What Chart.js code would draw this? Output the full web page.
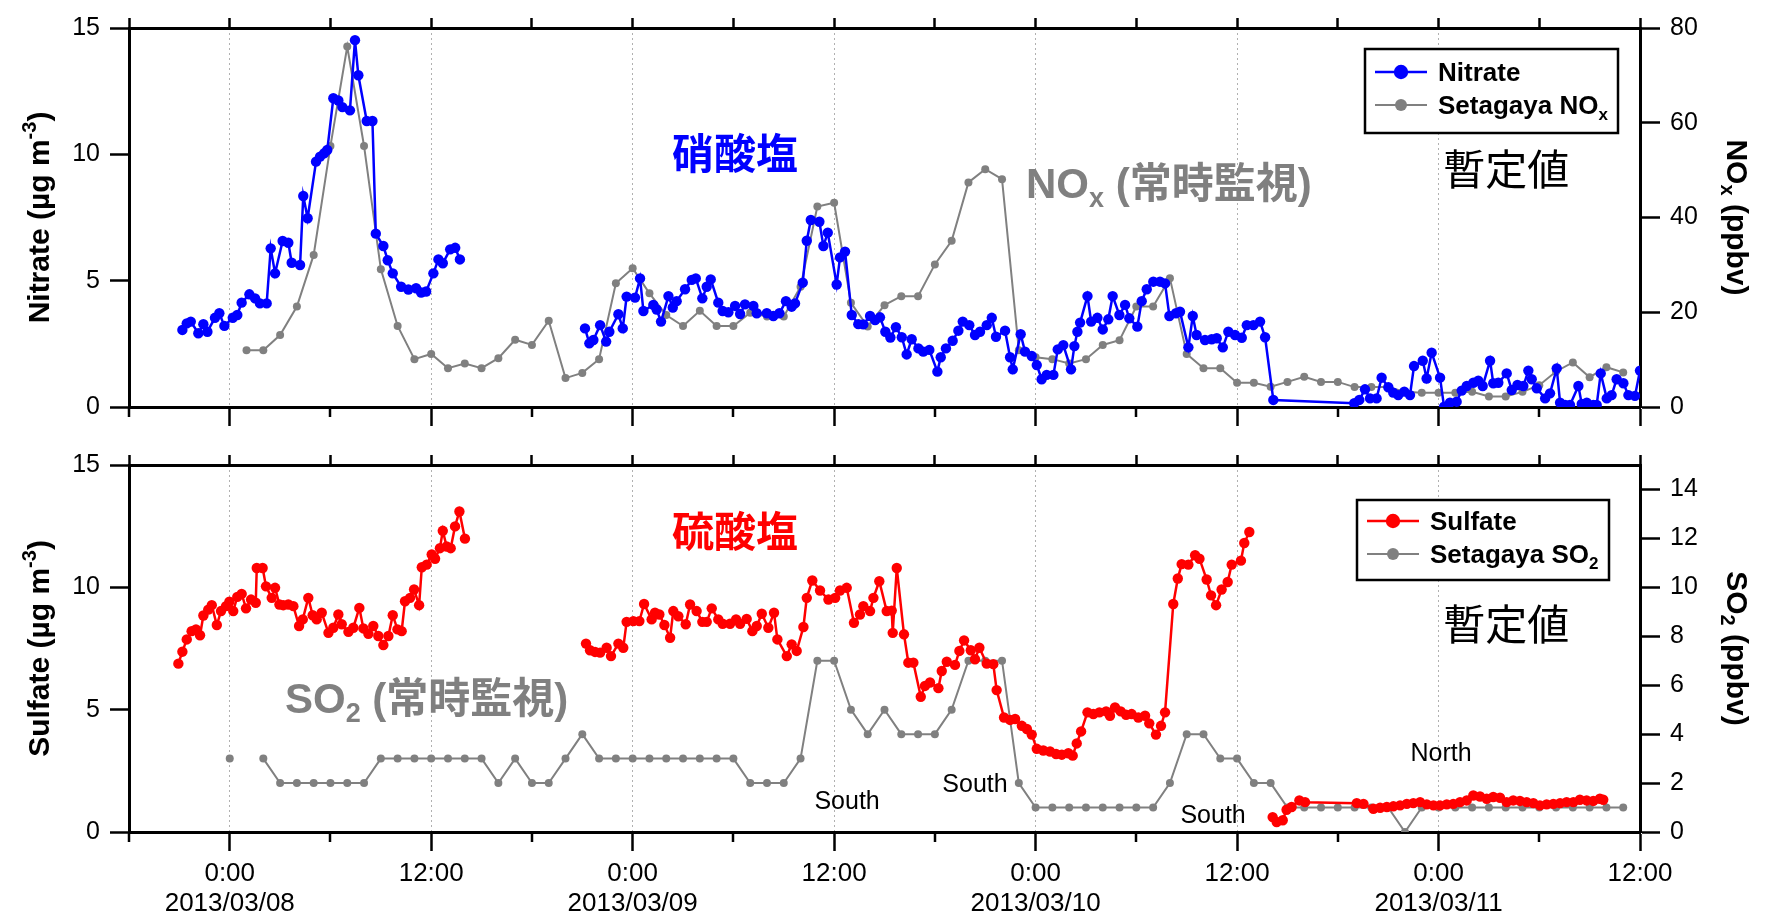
<!DOCTYPE html>
<html>
<head>
<meta charset="utf-8">
<script src="https://cdn.jsdelivr.net/npm/chart.js@4.4.0/dist/chart.umd.min.js"></script>
<style>
  html, body { margin: 0; padding: 0; background: #fff; }
  #wrap { position: relative; width: 1773px; height: 917px; }
  #topChart { position: absolute; left: 0; top: 0; }
  #bottomChart { position: absolute; left: 0; top: 440px; }
</style>
</head>
<body>
<div id="wrap">
  <canvas id="topChart" width="1773" height="440"></canvas>
  <canvas id="bottomChart" width="1773" height="477"></canvas>
</div>
<script>
// time axis is in hours after 2013/03/08 0:00
const dayLabels = ['2013/03/08', '2013/03/09', '2013/03/10', '2013/03/11'];
const hourLabels = ['0:00', '12:00'];

// nitrate (ug m-3), null marks the data gap
const nitrateHours = [
  -2.82, -2.56, -2.32, -1.87, -1.57, -1.33, -0.88, -0.62, -0.32, 0.18, 0.45, 0.71, 1.17, 1.51, 1.80, 2.20, 2.44, 2.70, 3.15, 3.49,
  3.69, 4.19, 4.38, 4.64, 5.14, 5.38, 5.62, 5.81, 6.17, 6.47, 6.71, 7.16, 7.46, 7.66, 8.16, 8.50, 8.70, 9.15, 9.41, 9.71,
  10.21, 10.64, 11.10, 11.40, 11.70, 12.13, 12.43, 12.69, 13.13, 13.43, 13.71,
  17.5,
  21.16, 21.42, 21.66, 22.06, 22.42, 22.61, 23.15, 23.41, 23.64, 24.14, 24.44, 24.64, 25.23, 25.43, 25.69, 26.13, 26.39, 26.62, 27.12, 27.52,
  27.76, 28.15, 28.41, 28.65, 29.10, 29.36, 29.70, 30.10, 30.40, 30.69, 31.19, 31.39, 31.99, 32.38, 32.74, 33.13, 33.47, 33.67, 34.13, 34.37,
  34.61, 35.12, 35.36, 35.62, 36.15, 36.35, 36.65, 37.05, 37.44, 37.74, 38.14, 38.44, 38.73, 39.05, 39.35, 39.68,
  40.03, 40.32, 40.62, 41.02, 41.31, 41.67, 42.15, 42.35, 42.66, 43.06, 43.40, 43.66, 44.05, 44.39, 44.69, 45.09, 45.39, 45.64, 46.18, 46.48,
  46.64, 47.11, 47.37, 47.77, 48.07, 48.36, 48.66, 49.06, 49.32, 49.65, 50.11, 50.31, 50.49, 50.65, 51.09, 51.31, 51.68, 52.00, 52.33, 52.59,
  52.99, 53.33, 53.58, 54.06, 54.32, 54.62, 55.01, 55.41, 55.71, 55.97, 56.36, 56.60, 57.10, 57.36, 57.59, 58.09, 58.49, 58.79, 59.15, 59.48,
  59.88, 60.28, 60.58, 60.97, 61.37, 61.67, 62.16,
  66.98, 67.28, 67.62, 67.92, 68.31, 68.61, 69.01, 69.30, 69.60, 69.96, 70.30, 70.54, 71.06, 71.29, 71.59, 72.09, 72.33, 72.68, 73.08, 73.38,
  73.68, 74.07, 74.37, 74.63, 75.07, 75.26, 75.56, 76.06, 76.36, 76.70, 77.05, 77.35, 77.55, 77.85, 78.35, 78.64, 79.04, 79.24, 79.54, 79.83,
  80.33, 80.53, 80.83, 81.22, 81.42, 81.66, 82.02, 82.31, 82.61, 83.01, 83.31, 83.70, 84.00
];
const nitrateValues = [
  3.05, 3.31, 3.38, 2.92, 3.28, 2.98, 3.53, 3.71, 3.21, 3.53, 3.64, 4.13, 4.46, 4.30, 4.10, 4.10, 6.28, 5.29, 6.57, 6.50,
  5.71, 5.62, 8.35, 7.47, 9.71, 9.91, 10.04, 10.17, 12.22, 12.13, 11.87, 11.74, 14.52, 13.13, 11.32, 11.32, 6.86, 6.37, 5.81, 5.29,
  4.76, 4.65, 4.70, 4.53, 4.57, 5.29, 5.84, 5.69, 6.24, 6.30, 5.84,
  null,
  3.11, 2.52, 2.65, 3.24, 2.59, 2.98, 3.67, 3.11, 4.37, 4.33, 5.09, 3.80, 4.04, 3.86, 3.38, 4.39, 3.94, 4.19, 4.66, 5.03,
  5.09, 4.30, 4.76, 5.05, 4.13, 3.80, 3.75, 4.00, 3.68, 4.06, 4.00, 3.71, 3.71, 3.60, 3.71, 4.19, 3.97, 4.10, 4.92, 6.58,
  7.40, 7.33, 6.37, 6.90, 4.85, 5.92, 6.15, 3.64, 3.28, 3.27, 3.60, 3.44, 3.55, 2.98, 2.75, 3.16,
  2.76, 2.08, 2.68, 2.32, 2.19, 2.26, 1.40, 1.97, 2.32, 2.62, 3.02, 3.38, 3.24, 2.85, 2.98, 3.24, 3.53, 2.78, 3.02, 1.97,
  1.49, 2.88, 2.19, 2.02, 1.66, 1.10, 1.27, 1.27, 2.28, 2.45, 1.49, 2.41, 2.98, 3.34, 4.39, 3.38, 3.53, 3.07, 3.47, 4.39,
  3.64, 4.04, 3.51, 3.18, 4.19, 4.66, 4.96, 4.96, 4.89, 3.60, 3.71, 3.77, 2.36, 3.60, 2.85, 2.65, 2.68, 2.72, 2.36, 2.98,
  2.85, 2.74, 3.24, 3.24, 3.38, 2.76, 0.28,
  0.15, 0.28, 0.70, 0.34, 0.34, 1.16, 0.78, 0.57, 0.47, 0.61, 0.47, 1.62, 1.83, 1.13, 2.15, 1.16, 0.01, 0.17, 0.21, 0.65,
  0.83, 0.96, 1.04, 0.83, 1.83, 0.94, 0.96, 1.33, 0.67, 0.87, 0.83, 1.44, 1.10, 0.74, 0.34, 0.54, 1.53, 0.17, 0.08, 0.08,
  0.83, 0.12, 0.17, 0.08, 0.08, 1.33, 0.34, 0.47, 1.10, 0.94, 0.47, 0.44, 1.44
];

// Setagaya NOx (ppbv), hourly from 1:00 on 03/08
const noxStartHour = 1;
const noxValues = [
  12.0, 12.0, 15.2, 21.2, 32.1, 55.1, 76.1, 55.1, 29.1, 17.1,
  10.1, 11.2, 8.2, 9.2, 8.2, 10.3, 14.2, 13.1, 18.2, 6.1,
  7.2, 10.1, 26.1, 29.3, 24.0, 19.4, 17.1, 20.3, 17.1, 17.1,
  19.9, 19.1, 19.1, 25.4, 42.3, 43.1, 22.0, 17.0, 21.5, 23.4,
  23.4, 30.1, 35.1, 47.4, 50.2, 48.1, 12.0, 10.5, 10.1, 9.2,
  10.1, 13.1, 14.1, 21.2, 21.2, 27.2, 11.2, 8.2, 8.2, 5.1,
  5.1, 4.3, 5.3, 6.4, 5.3, 5.3, 4.2, 4.2, 4.2, 3.2,
  3.0, 3.0, 3.0, 3.2, 2.2, 2.2, 3.2, 4.6, 7.5, 9.4,
  6.3, 8.4, 7.3
];

// sulfate (ug m-3)
const sulfateHours = [
  -3.06, -2.82, -2.56, -2.27, -2.01, -1.77, -1.57, -1.28, -1.07, -0.77, -0.52, -0.22, -0.02, 0.21, 0.45, 0.71, 0.97, 1.27, 1.55, 1.61,
  1.96, 2.16, 2.50, 2.70, 2.96, 3.19, 3.49, 3.79, 4.13, 4.35, 4.68, 4.94, 5.18, 5.48, 5.88, 6.17, 6.47, 6.67, 7.07, 7.36,
  7.72, 7.96, 8.26, 8.55, 8.85, 9.15, 9.45, 9.71, 9.99, 10.24, 10.44, 10.74, 10.98, 11.28, 11.44, 11.73, 12.03, 12.23, 12.52, 12.69,
  12.92, 13.16, 13.42, 13.68, 14.01,
  17.5,
  21.22, 21.46, 21.76, 22.06, 22.45, 22.71, 23.15, 23.44, 23.64, 24.04, 24.40, 24.68, 25.13, 25.33, 25.59, 25.89, 26.23, 26.42, 26.72, 27.16,
  27.42, 27.81, 28.15, 28.41, 28.71, 29.10, 29.36, 29.80, 30.16, 30.40, 30.79, 31.13, 31.39, 31.69, 32.08, 32.42, 32.62, 33.18, 33.47, 33.77,
  34.17, 34.37, 34.70, 35.16, 35.66, 36.06, 36.35, 36.75, 37.18, 37.54, 37.74, 38.14, 38.34, 38.69, 39.13, 39.43, 39.49, 39.73, 40.16, 40.42,
  40.72, 41.16, 41.41, 41.71, 42.21, 42.41, 42.71, 43.20, 43.46, 43.74, 44.14, 44.39, 44.65, 45.09, 45.48, 45.68, 46.12, 46.48, 46.78, 47.18,
  47.48, 47.77, 48.07, 48.46, 48.86, 49.22, 49.56, 49.95, 50.21, 50.45, 50.71, 51.09, 51.44, 51.80, 52.20, 52.43, 52.73, 53.07, 53.39, 53.72,
  54.12, 54.52, 54.77, 55.17, 55.47, 55.71, 56.20, 56.47, 56.70, 57.10, 57.50, 57.76, 58.19, 58.45, 58.75, 59.08, 59.44, 59.68, 60.23, 60.43,
  60.73,
  61.4,
  62.12, 62.36, 62.72, 62.95, 63.25, 63.71, 64.05, 67.13, 67.53, 68.12, 68.52, 68.92, 69.31, 69.71, 70.11, 70.50, 70.90, 71.30, 71.70, 72.09,
  72.49, 72.88, 73.28, 73.68, 74.07, 74.47, 74.87, 75.26, 75.66, 76.06, 76.45, 76.85, 77.25, 77.65, 78.04, 78.44, 78.84, 79.24, 79.63, 80.03,
  80.42, 80.82, 81.22, 81.61, 81.81
];
const sulfateValues = [
  6.88, 7.37, 7.87, 8.21, 8.28, 8.04, 8.85, 9.09, 9.27, 8.46, 9.03, 9.23, 9.41, 9.03, 9.61, 9.73, 9.14, 9.50, 9.37, 10.79,
  10.79, 10.04, 9.57, 9.98, 9.30, 9.27, 9.30, 9.23, 8.42, 8.69, 9.57, 8.86, 8.69, 8.96, 8.14, 8.35, 8.89, 8.49, 8.18, 8.35,
  9.16, 8.32, 8.10, 8.42, 8.01, 7.64, 8.01, 8.86, 8.28, 8.21, 9.43, 9.57, 9.91, 9.27, 10.82, 10.93, 11.34, 11.17, 11.60, 12.31,
  11.67, 11.60, 12.49, 13.10, 11.99,
  null,
  7.70, 7.43, 7.36, 7.33, 7.53, 7.19, 7.70, 7.53, 8.59, 8.62, 8.62, 9.32, 8.69, 8.96, 8.89, 8.46, 7.94, 9.03, 8.82, 8.49,
  9.30, 9.03, 8.59, 8.59, 9.14, 8.69, 8.51, 8.51, 8.69, 8.51, 8.71, 8.21, 8.42, 8.92, 8.35, 8.96, 7.87, 7.19, 7.67, 7.40,
  8.38, 9.57, 10.28, 9.87, 9.50, 9.57, 9.87, 9.98, 8.55, 8.89, 9.23, 9.03, 9.57, 10.25, 9.03, 9.05, 8.14, 10.79, 8.08, 6.92,
  6.92, 5.53, 5.97, 6.11, 5.88, 6.58, 6.96, 6.83, 7.40, 7.83, 7.43, 7.06, 7.53, 6.88, 6.86, 5.80, 4.68, 4.58, 4.62, 4.34,
  4.21, 3.98, 3.40, 3.33, 3.29, 3.19, 3.16, 3.22, 3.12, 3.62, 4.11, 4.89, 4.82, 4.89, 4.93, 4.75, 5.09, 4.93, 4.79, 4.82,
  4.68, 4.75, 4.44, 3.98, 4.34, 4.89, 9.32, 10.36, 10.95, 10.93, 11.31, 11.17, 10.32, 9.67, 9.27, 9.91, 10.22, 10.93, 11.09, 11.81,
  12.26,
  null,
  0.61, 0.41, 0.48, 0.91, 1.02, 1.29, 1.22, 1.18, 1.15, 0.95, 0.99, 1.02, 1.05, 1.09, 1.15, 1.18, 1.22, 1.13, 1.09, 1.09,
  1.13, 1.15, 1.22, 1.29, 1.49, 1.45, 1.36, 1.43, 1.40, 1.22, 1.29, 1.27, 1.22, 1.18, 1.09, 1.13, 1.15, 1.18, 1.22, 1.22,
  1.32, 1.29, 1.27, 1.36, 1.32
];

// Setagaya SO2 (ppbv), hourly from 0:00 on 03/08, 1:00 missing
const so2StartHour = 0;
const so2Values = [
  3, null, 3, 2, 2, 2, 2, 2, 2, 3, 3, 3, 3, 3, 3, 3, 2, 3, 2, 2,
  3, 4, 3, 3, 3, 3, 3, 3, 3, 3, 3, 2, 2, 2, 3, 7, 7, 5, 4, 5,
  4, 4, 4, 5, 7, 7, 7, 2, 1, 1, 1, 1, 1, 1, 1, 1, 2, 4, 4, 3,
  3, 2, 2, 1, 1, 1, 1, 1, 1, 1, 0, 1, 1, 1, 1, 1, 1, 1, 1, 1,
  1, 1, 1, 1
];

const FONT = "'Liberation Sans', Arial, 'Noto Sans CJK JP', sans-serif";
const BLUE = '#0000ff';
const RED = '#ff0000';
const GRAY = '#808080';

function pairs(xs, ys) {
  return xs.map((x, i) => ({ x: x, y: ys[i] }));
}
function hourly(start, ys) {
  return ys.map((y, i) => ({ x: start + i, y: y }));
}
function isMajor(v) {
  return v % 12 === 0;
}
function timeLabel(value) {
  const h = ((value % 24) + 24) % 24;
  if (h === 0) return [hourLabels[0], dayLabels[value / 24]];
  if (h === 12) return hourLabels[1];
  return '';
}

// draws text runs with sub/superscripts, y is the baseline
function drawRich(ctx, parts, x, y, size, weight, color, align) {
  const fontFor = m => weight + ' ' + (m ? Math.round(size * 0.65) : size) + 'px ' + FONT;
  let w = 0;
  parts.forEach(p => { ctx.font = fontFor(p[1]); w += ctx.measureText(p[0]).width; });
  let cx = align === 'center' ? x - w / 2 : (align === 'right' ? x - w : x);
  ctx.fillStyle = color;
  ctx.textAlign = 'left';
  ctx.textBaseline = 'alphabetic';
  parts.forEach(p => {
    ctx.font = fontFor(p[1]);
    const dy = p[1] === 'sub' ? size * 0.22 : (p[1] === 'sup' ? -size * 0.42 : 0);
    ctx.fillText(p[0], cx, y + dy);
    cx += ctx.measureText(p[0]).width;
  });
}

function drawTurned(ctx, parts, cx, cy, angle, size) {
  ctx.save();
  ctx.translate(cx, cy);
  ctx.rotate(angle);
  drawRich(ctx, parts, 0, size * 0.36, size, 'bold', '#000', 'center');
  ctx.restore();
}

function overlay(cfg) {
  return {
    id: 'overlay',
    afterDraw(chart) {
      const ctx = chart.ctx;
      const area = chart.chartArea;
      const sx = chart.scales.x;
      const sy = chart.scales.yL;
      ctx.save();

      // short ticks every 6 h on the lower time axis
      ctx.strokeStyle = '#000';
      ctx.lineWidth = 2.5;
      sx.ticks.forEach(t => {
        if (isMajor(t.value)) return;
        const px = Math.round(sx.getPixelForValue(t.value));
        ctx.beginPath();
        ctx.moveTo(px, area.bottom);
        ctx.lineTo(px, area.bottom + 10);
        ctx.stroke();
      });

      // axis titles
      const midY = (area.top + area.bottom) / 2;
      drawTurned(ctx, cfg.leftTitle, 38, midY, -Math.PI / 2, 30);
      drawTurned(ctx, cfg.rightTitle, 1738, midY, Math.PI / 2, 30);

      // notes placed in data coordinates
      cfg.notes.forEach(n => {
        drawRich(ctx, n.parts, sx.getPixelForValue(n.at[0]), sy.getPixelForValue(n.at[1]),
          n.size, n.weight, n.color, n.align);
      });

      // legend box
      const lg = cfg.legend;
      const lx = area.right - lg.right - lg.w;
      const ly = area.top + lg.top;
      ctx.fillStyle = '#fff';
      ctx.fillRect(lx, ly, lg.w, lg.h);
      ctx.strokeStyle = '#000';
      ctx.lineWidth = 2.5;
      ctx.strokeRect(lx, ly, lg.w, lg.h);
      chart.data.datasets.forEach((ds, i) => {
        const ry = ly + lg.rows[i];
        ctx.strokeStyle = ds.borderColor;
        ctx.lineWidth = ds.borderWidth;
        ctx.beginPath();
        ctx.moveTo(lx + 10, ry);
        ctx.lineTo(lx + 62, ry);
        ctx.stroke();
        ctx.fillStyle = ds.borderColor;
        ctx.beginPath();
        ctx.arc(lx + 36, ry, ds.pointRadius + 2, 0, Math.PI * 2);
        ctx.fill();
        drawRich(ctx, cfg.legendText[i], lx + 73, ry + 9, 26, 'bold', '#000', 'left');
      });
      ctx.restore();
    }
  };
}

function yScale(pos, max, step, width, tickLen) {
  return {
    type: 'linear',
    position: pos,
    min: 0,
    max: max,
    afterFit: s => { s.width = width; },
    ticks: { stepSize: step, includeBounds: false, padding: 10, color: '#000', font: { family: FONT, size: 25 } },
    grid: { drawOnChartArea: false, tickLength: tickLen, tickWidth: 2.5, tickColor: '#000' },
    border: { display: true, color: '#000', width: 3 }
  };
}

function makeChart(id, cfg) {
  return new Chart(document.getElementById(id), {
    type: 'line',
    data: { datasets: cfg.datasets },
    options: {
      responsive: false,
      animation: false,
      devicePixelRatio: 1,
      layout: { padding: 0 },
      plugins: { legend: { display: false }, tooltip: { enabled: false } },
      scales: {
        x: {
          type: 'linear',
          position: 'bottom',
          min: -6,
          max: 84,
          afterFit: s => { s.height = cfg.bottomAxisHeight; },
          ticks: {
            stepSize: 6, autoSkip: false, maxRotation: 0, minRotation: 0,
            display: cfg.showTimeLabels, padding: 8, color: '#000',
            font: { family: FONT, size: 26, lineHeight: 1.15 },
            callback: timeLabel
          },
          grid: {
            drawOnChartArea: true,
            tickLength: 19,
            tickWidth: 2.5,
            lineWidth: 1,
            color: c => (c.tick && isMajor(c.tick.value) && c.tick.value > -6 && c.tick.value < 84) ? '#b0b0b0' : 'rgba(0,0,0,0)',
            tickColor: c => (c.tick && isMajor(c.tick.value)) ? '#000' : 'rgba(0,0,0,0)'
          },
          border: { display: true, color: '#000', width: 3, dash: [2, 3] }
        },
        xTop: {
          type: 'linear',
          position: 'top',
          min: -6,
          max: 84,
          afterFit: s => { s.height = cfg.topAxisHeight; },
          ticks: { stepSize: 6, autoSkip: false, display: false },
          grid: { drawOnChartArea: false, tickLength: 10, tickWidth: 2.5, tickColor: '#000' },
          border: { display: true, color: '#000', width: 3 }
        },
        yL: yScale('left', 15, 5, 129, 19),
        yR: yScale('right', cfg.rightMax, cfg.rightStep, 133, 20)
      }
    },
    plugins: [overlay(cfg)]
  });
}

function series(label, data, axis, color, lw, r) {
  return {
    label: label,
    data: data,
    xAxisID: 'x',
    yAxisID: axis,
    borderColor: color,
    backgroundColor: color,
    pointBackgroundColor: color,
    pointBorderWidth: 0,
    borderWidth: lw,
    pointRadius: r,
    tension: 0,
    spanGaps: false
  };
}

makeChart('topChart', {
  showTimeLabels: false,
  bottomAxisHeight: 33,
  topAxisHeight: 28,
  rightMax: 80,
  rightStep: 20,
  datasets: [
    series('Nitrate', pairs(nitrateHours, nitrateValues), 'yL', BLUE, 2.5, 5.2),
    series('Setagaya NOx', hourly(noxStartHour, noxValues), 'yR', GRAY, 2, 4)
  ],
  leftTitle: [['Nitrate (\u00b5g m', ''], ['-3', 'sup'], [')', '']],
  rightTitle: [['NO', ''], ['x', 'sub'], [' (ppbv)', '']],
  legend: { right: 22, top: 21, w: 253, h: 84, rows: [23, 56] },
  legendText: [[['Nitrate', '']], [['Setagaya NO', ''], ['x', 'sub']]],
  notes: [
    { parts: [['硝酸塩', '']], at: [30.1, 9.42], size: 42, weight: 'bold', color: BLUE, align: 'center' },
    { parts: [['NO', ''], ['x', 'sub'], [' (常時監視)', '']], at: [47.43, 8.27], size: 42, weight: 'bold', color: GRAY, align: 'left' },
    { parts: [['暫定値', '']], at: [76.03, 8.79], size: 42, weight: 'normal', color: '#000', align: 'center' }
  ]
});

makeChart('bottomChart', {
  showTimeLabels: true,
  bottomAxisHeight: 85,
  topAxisHeight: 23,
  rightMax: 15,
  rightStep: 2,
  datasets: [
    series('Sulfate', pairs(sulfateHours, sulfateValues), 'yL', RED, 2.5, 5.2),
    series('Setagaya SO2', hourly(so2StartHour, so2Values), 'yR', GRAY, 2, 4)
  ],
  leftTitle: [['Sulfate (\u00b5g m', ''], ['-3', 'sup'], [')', '']],
  rightTitle: [['SO', ''], ['2', 'sub'], [' (ppbv)', '']],
  legend: { right: 31, top: 35, w: 252, h: 80, rows: [21, 54] },
  legendText: [[['Sulfate', '']], [['Setagaya SO', ''], ['2', 'sub']]],
  notes: [
    { parts: [['硫酸塩', '']], at: [30.1, 11.63], size: 42, weight: 'bold', color: RED, align: 'center' },
    { parts: [['SO', ''], ['2', 'sub'], [' (常時監視)', '']], at: [3.29, 4.88], size: 42, weight: 'bold', color: GRAY, align: 'left' },
    { parts: [['暫定値', '']], at: [76.03, 7.85], size: 42, weight: 'normal', color: '#000', align: 'center' },
    { parts: [['South', '']], at: [36.77, 0.96], size: 25, weight: 'normal', color: '#000', align: 'center' },
    { parts: [['South', '']], at: [44.39, 1.62], size: 25, weight: 'normal', color: '#000', align: 'center' },
    { parts: [['South', '']], at: [58.57, 0.36], size: 25, weight: 'normal', color: '#000', align: 'center' },
    { parts: [['North', '']], at: [72.15, 2.92], size: 25, weight: 'normal', color: '#000', align: 'center' }
  ]
});
</script>
</body>
</html>
